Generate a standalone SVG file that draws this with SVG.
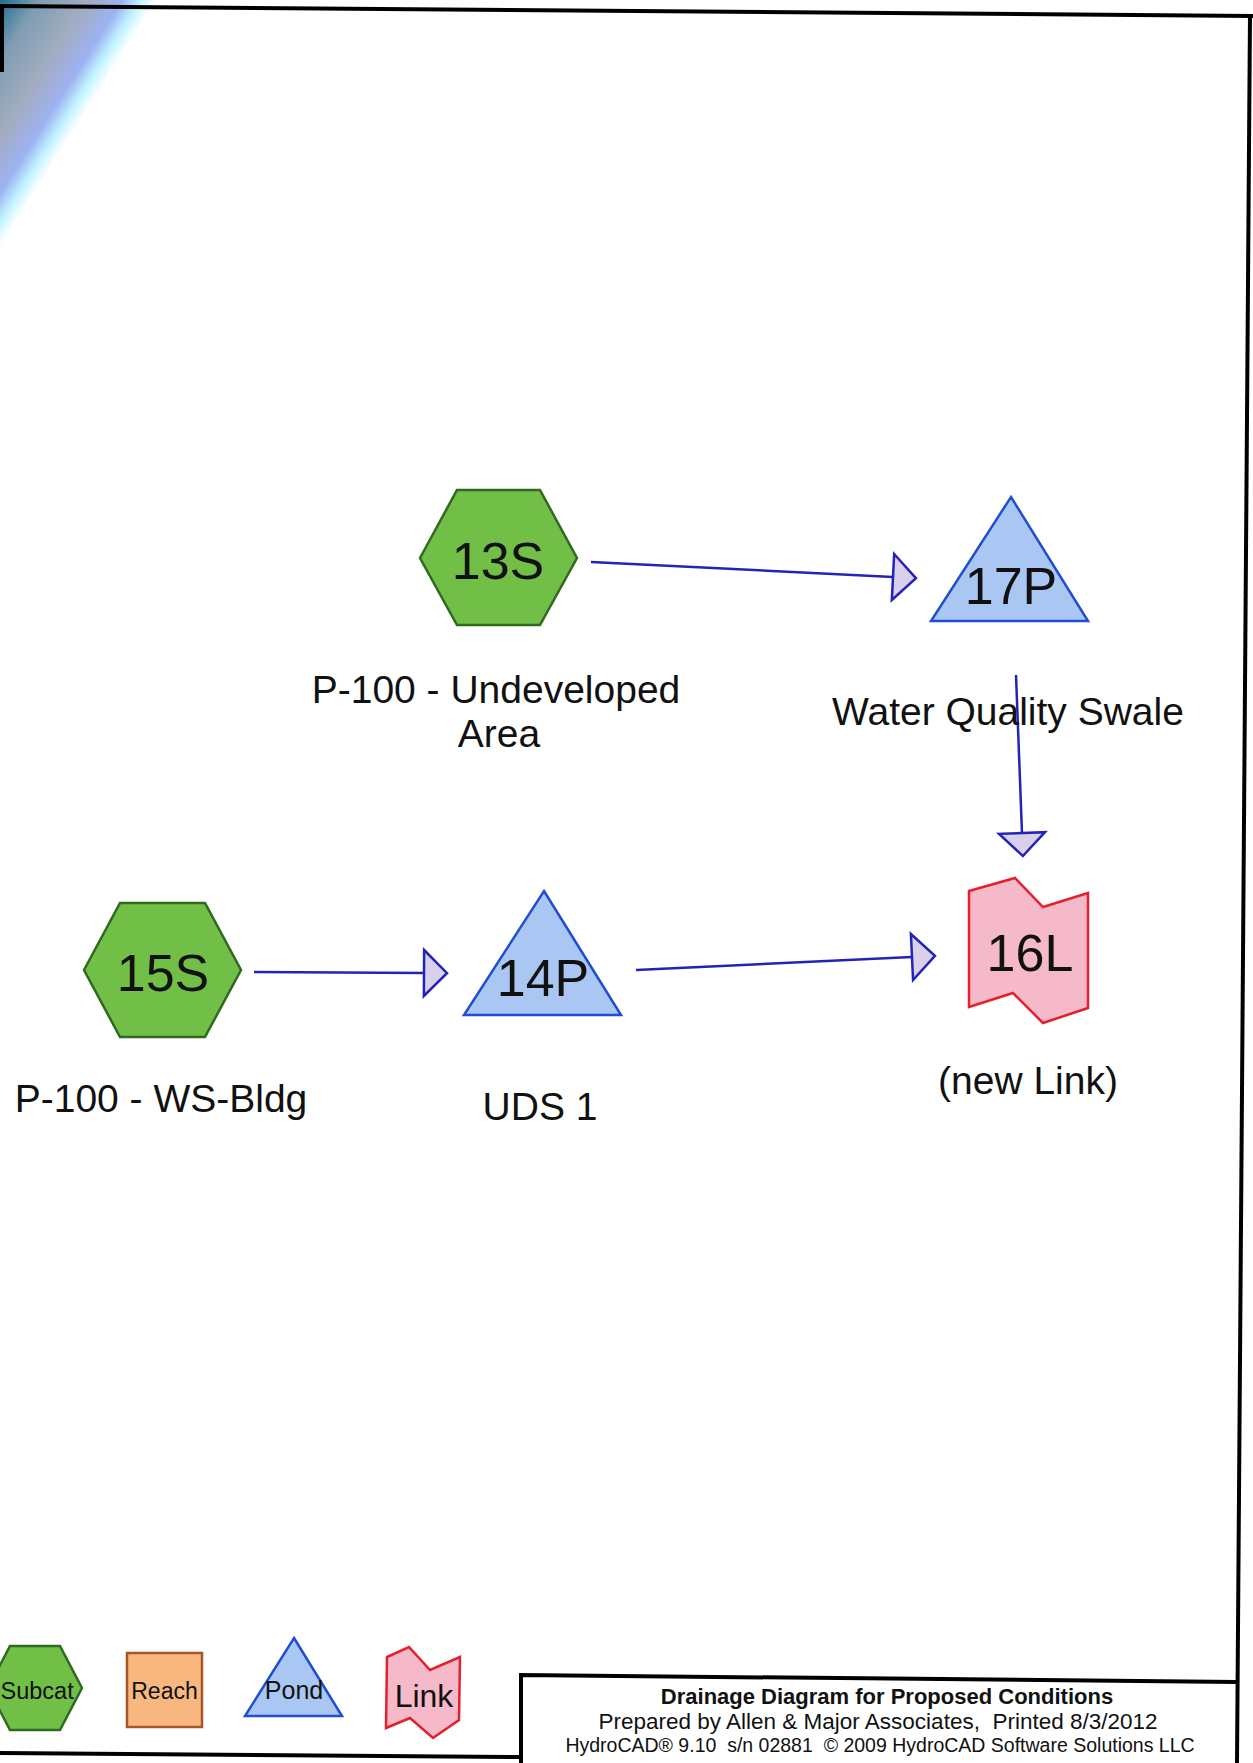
<svg xmlns="http://www.w3.org/2000/svg" width="1253" height="1763" viewBox="0 0 1253 1763">
  <style>
    text { font-family: "Liberation Sans", Arial, sans-serif; fill: #111; white-space: pre; }
    .id { font-size: 52px; text-anchor: middle; }
    .lbl { font-size: 39px; text-anchor: middle; }
    .subcat { fill: #72bf48; stroke: #2f6a1f; stroke-width: 2.5; }
    .pond { fill: #a9c7f2; stroke: #1f4fd0; stroke-width: 2.5; }
    .link { fill: #f6b9c9; stroke: #e3202c; stroke-width: 2.5; }
    .reach { fill: #f8b77e; stroke: #a8552a; stroke-width: 2.5; }
    .conn { stroke: #2323b8; stroke-width: 2.5; fill: none; }
    .frame { stroke: #000; stroke-width: 4; fill: none; }
    .title1 { font-size: 22px; font-weight: bold; text-anchor: middle; }
    .title2 { font-size: 22.5px; text-anchor: middle; }
    .title3 { font-size: 19.5px; text-anchor: middle; }
  </style>
  <defs>
    <linearGradient id="corner" gradientUnits="userSpaceOnUse" x1="0" y1="0" x2="112" y2="71">
      <stop offset="0" stop-color="#1f6f93"/>
      <stop offset="0.25" stop-color="#7f9db3"/>
      <stop offset="0.55" stop-color="#a2acbf"/>
      <stop offset="0.78" stop-color="#9db2f2"/>
      <stop offset="0.9" stop-color="#c2f4ff"/>
      <stop offset="1" stop-color="#ffffff"/>
    </linearGradient>
    <marker id="arrow" markerUnits="userSpaceOnUse" markerWidth="30" markerHeight="54" viewBox="-3 -26 30 52" refX="0" refY="0" orient="auto">
      <path d="M0,-23 L23,0 L0,23 Z" fill="#d9d0ec" stroke="#2323b8" stroke-width="2.5" stroke-linejoin="miter"/>
    </marker>
  </defs>

  <rect x="0" y="0" width="1253" height="1763" fill="#ffffff"/>
  <polygon points="0,0 158,0 0,250" fill="url(#corner)"/>

  <!-- page frame -->
  <g id="frame">
    <line class="frame" x1="0" y1="6" x2="1253" y2="16"/>
    <line class="frame" x1="2" y1="4" x2="2" y2="72"/>
    <line class="frame" x1="1250" y1="14" x2="1237" y2="1763"/>
    <line class="frame" x1="0" y1="1753" x2="521" y2="1757"/>
    <polyline class="frame" points="521,1763 521,1675 1237,1682"/>
  </g>

  <g id="connectors">
    <line class="conn" x1="591" y1="562" x2="893" y2="577" marker-end="url(#arrow)"/>
    <line class="conn" x1="1016" y1="675" x2="1022" y2="833" marker-end="url(#arrow)"/>
    <line class="conn" x1="254" y1="972" x2="424" y2="973" marker-end="url(#arrow)"/>
    <line class="conn" x1="636" y1="970" x2="912" y2="957" marker-end="url(#arrow)"/>
  </g>

  <g id="node-13S">
    <polygon class="subcat" points="420,558 457,490 540,490 577,558 540,625 457,625"/>
    <text class="id" x="498" y="579">13S</text>
    <text class="lbl" x="496" y="703">P-100 - Undeveloped</text>
    <text class="lbl" x="499" y="747">Area</text>
  </g>

  <g id="node-17P">
    <polygon class="pond" points="1011,497 1088,621 931,621"/>
    <text class="id" x="1011" y="604">17P</text>
    <text class="lbl" x="1008" y="725">Water Quality Swale</text>
  </g>

  <g id="node-15S">
    <polygon class="subcat" points="84,970 120,903 205,903 241,970 205,1037 120,1037"/>
    <text class="id" x="163" y="991">15S</text>
    <text class="lbl" x="161" y="1112">P-100 - WS-Bldg</text>
  </g>

  <g id="node-14P">
    <polygon class="pond" points="544,891 621,1015 464,1015"/>
    <text class="id" x="543" y="996">14P</text>
    <text class="lbl" x="540" y="1120">UDS 1</text>
  </g>

  <g id="node-16L">
    <polygon class="link" points="969,891 1015,878 1043,907 1088,893 1088,1008 1043,1023 1013,993 969,1007"/>
    <text class="id" x="1030" y="971">16L</text>
    <text class="lbl" x="1028" y="1094">(new Link)</text>
  </g>

  <g id="legend-subcat">
    <polygon class="subcat" points="-12,1688 10,1646 60,1646 82,1688 60,1730 10,1730"/>
    <text x="0.5" y="1699" font-size="23.5">Subcat</text>
  </g>
  <g id="legend-reach">
    <rect class="reach" x="127" y="1653" width="75" height="74"/>
    <text x="164.5" y="1699" font-size="23" text-anchor="middle">Reach</text>
  </g>
  <g id="legend-pond">
    <polygon class="pond" points="294,1638 342,1716 245,1716"/>
    <text x="294" y="1699" font-size="25" text-anchor="middle">Pond</text>
  </g>
  <g id="legend-link">
    <polygon class="link" points="387,1657 409,1647 430,1670 460,1657 459,1720 433,1738 410,1718 386,1728"/>
    <text x="424" y="1707" font-size="32" text-anchor="middle">Link</text>
  </g>

  <g id="title-block">
    <text class="title1" x="887" y="1704">Drainage Diagram for Proposed Conditions</text>
    <text class="title2" x="878" y="1729">Prepared by Allen &amp; Major Associates,  Printed 8/3/2012</text>
    <text class="title3" x="880" y="1752">HydroCAD® 9.10  s/n 02881  © 2009 HydroCAD Software Solutions LLC</text>
  </g>
</svg>
